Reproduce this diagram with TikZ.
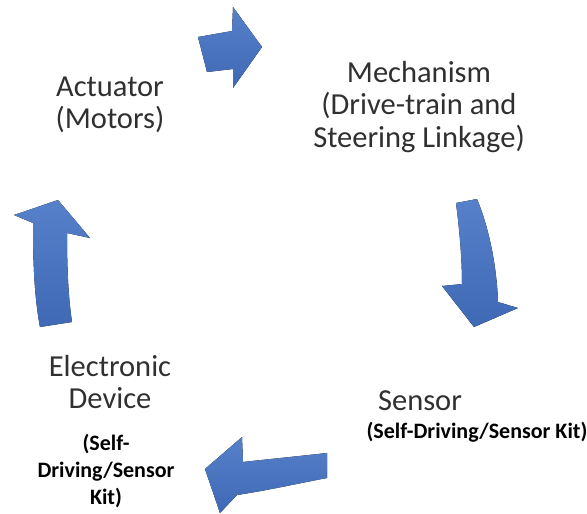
\documentclass[tikz,border=0pt]{standalone}
\usepackage{fontspec}
\setmainfont{Carlito}
\usetikzlibrary{positioning}
\definecolor{arrowblue}{HTML}{4472C4}
\definecolor{labelgray}{HTML}{303030}

\begin{document}
\begin{tikzpicture}[
    x=1pt, y=-1pt,
    label/.style={inner sep=0pt, align=center, text=labelgray, font=\fontsize{30.5}{32.5}\selectfont},
    kit/.style={inner sep=0pt, align=center, text=black, font=\fontsize{22}{27}\selectfont\bfseries},
    blockarrow/.style={top color=arrowblue!90!white, bottom color=arrowblue!92!black, draw=none}
]
    \useasboundingbox (0,0) rectangle (587,514);

    \node[label] (actuator) at (110,105) {Actuator\\(Motors)};
    \node[label] (mechanism) at (419,107) {Mechanism\\(Drive-train and\\Steering Linkage)};
    \node[label] (sensor) at (420,401) {Sensor};
    \node[kit] (sensorkit) at (477,432) {(Self-Driving/Sensor Kit)};
    \node[label] (device) at (110,382) {Electronic\\Device};
    \node[kit] (devicekit) at (106,471) {(Self-\\Driving/Sensor\\Kit)};

    % block arrows going round clockwise
    \fill[blockarrow] (198,37) -- (232,31) -- (233,7) -- (262,47) -- (233,88)
        -- (233,69) -- (207,72) -- cycle;
    \fill[blockarrow] (456,203) .. controls (460,235) and (462,260) .. (462,284)
        -- (442,286) -- (474,327) -- (518,308) -- (498,302)
        .. controls (497,270) and (490,230) .. (477,199) -- cycle;
    \fill[blockarrow] (327,453) .. controls (300,456) and (270,459) .. (243,462)
        -- (242,437) -- (205,469) -- (220,513) -- (237,495)
        .. controls (270,490) and (300,483) .. (327,478) -- cycle;
    \fill[blockarrow] (40,327) .. controls (34,295) and (33,260) .. (33,223)
        -- (14,215) -- (58,200) -- (90,238) -- (67,233)
        .. controls (67,265) and (68,295) .. (72,322) -- cycle;
\end{tikzpicture}
\end{document}
